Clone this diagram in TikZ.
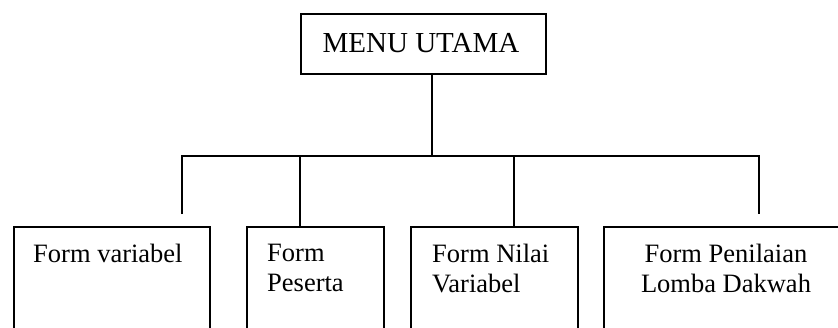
\documentclass[tikz,border=0pt]{standalone}
\usepackage{fontspec}
\setmainfont{Liberation Serif}
\begin{document}
\begin{tikzpicture}[x=1pt,y=-1pt,
  boxstyle/.style={draw, line width=1.8pt, inner sep=0pt, anchor=north west},
  conn/.style={line width=1.8pt},
  lbl/.style={inner sep=0pt, align=left, font=\fontsize{26.5}{30}\selectfont},
  toplbl/.style={inner sep=0pt, font=\fontsize{29}{33}\selectfont}]
\useasboundingbox (0,0) rectangle (838,327);
\clip (0,0) rectangle (838,327);
% top box
\node[boxstyle, minimum width=245pt, minimum height=60pt] (menu) at (300,13) {};
\node[toplbl, anchor=base] (menut) at (421,52) {MENU UTAMA};
% bottom boxes (open below the picture edge)
\node[boxstyle, minimum width=196pt, minimum height=140pt] (f1) at (13,226) {};
\node[boxstyle, minimum width=137pt, minimum height=140pt] (f2) at (246,226) {};
\node[boxstyle, minimum width=167pt, minimum height=140pt] (f3) at (410,226) {};
\node[boxstyle, minimum width=250pt, minimum height=140pt] (f4) at (603,226) {};
\node[lbl, anchor=base west] (t1) at (33,262) {Form variabel};
\node[lbl, anchor=north west, yshift=0pt] (t2) at (267,244) {Form\\Peserta};
\node[lbl, anchor=north west] (t3) at (432,244) {Form Nilai\\Variabel};
\node[lbl, anchor=north, align=center] (t4) at (726,244) {Form Penilaian\\Lomba Dakwah};
% connectors
\coordinate (hub) at (432,156);
\coordinate (busL) at (182,156);
\coordinate (busR) at (759,156);
\coordinate (end1) at (182,214);
\coordinate (end4) at (759,214);
\coordinate (tap2) at (300,156);
\coordinate (tap3) at (514,156);
\draw[conn] (menu.south -| hub) -- (hub);
\draw[conn] (end1) -- (busL) -- (busR) -- (end4);
\draw[conn] (tap2) -- (tap2 |- f2.north);
\draw[conn] (tap3) -- (tap3 |- f3.north);
\end{tikzpicture}
\end{document}
